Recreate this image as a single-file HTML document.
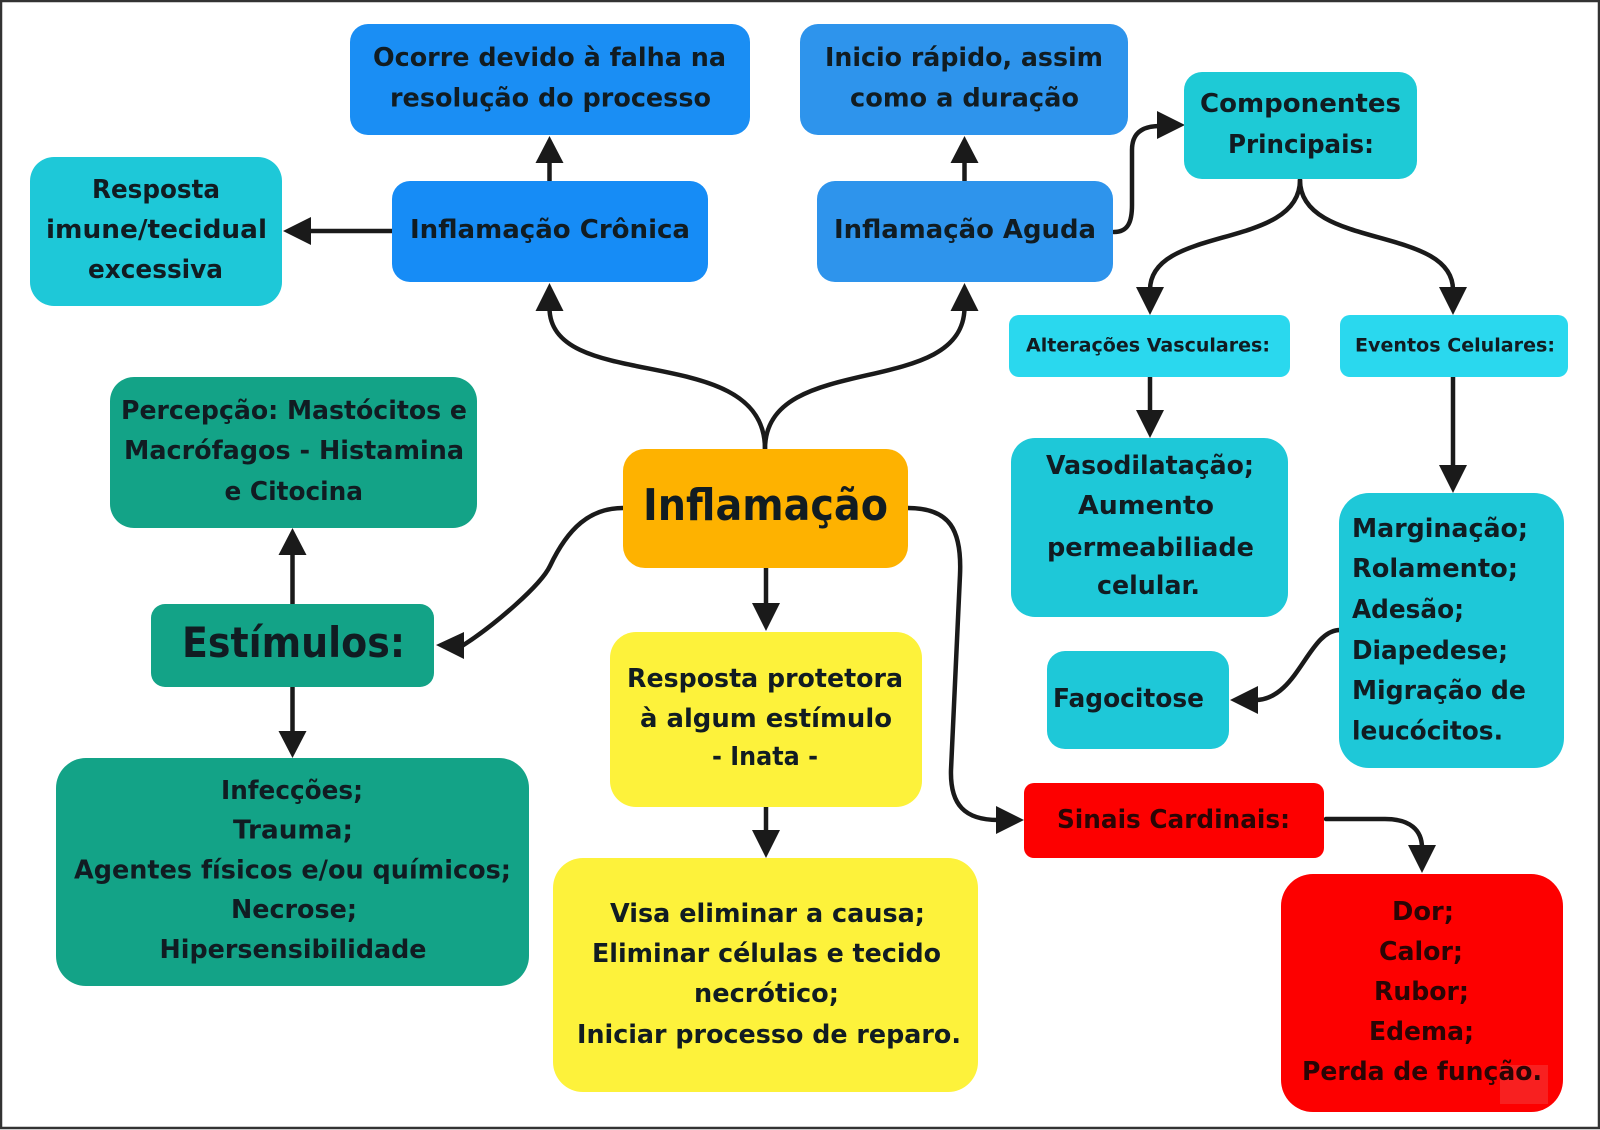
<!DOCTYPE html>
<html>
<head>
<meta charset="utf-8">
<style>
  html,body{margin:0;padding:0;background:#fff;}
  svg{display:block;}
  text{font-family:"DejaVu Sans","Liberation Sans",sans-serif;font-weight:bold;fill:#111c22;}
  .r text, text.r{fill:#2a0505;}
</style>
</head>
<body>
<svg width="1600" height="1130" viewBox="0 0 1600 1130" xmlns="http://www.w3.org/2000/svg">
  <rect x="0" y="0" width="1600" height="1130" fill="#ffffff"/>
  <rect x="1" y="1" width="1598" height="1127" fill="none" stroke="#333333" stroke-width="2.5"/>

  <!-- ===== Connectors ===== -->
  <g fill="none" stroke="#1a1a1a" stroke-width="4.5" stroke-linecap="round" stroke-linejoin="round">
    <line x1="549.5" y1="181" x2="549.5" y2="160"/>
    <line x1="392" y1="231" x2="308" y2="231"/>
    <path d="M765,449 C765,340 550,395 549.5,308"/>
    <path d="M765,449 C765,350 963,400 964.5,308"/>
    <line x1="964.5" y1="181" x2="964.5" y2="160"/>
    <path d="M1114,232 C1128,232 1132,222 1132,205 L1132,150 C1132,135 1140,126 1160,126"/>
    <path d="M1300,180 C1300,250 1150,225 1150,290"/>
    <path d="M1300,180 C1300,250 1453,225 1453,290"/>
    <line x1="1150" y1="377" x2="1150" y2="414"/>
    <line x1="1453" y1="377" x2="1453" y2="468"/>
    <path d="M1340,630 C1308,630 1298,700 1255,700"/>
    <!-- Inflamação -> Sinais (smoothed) -->
    <path d="M908,508 C950,508 962,530 960,575 L951,770 C950,805 965,820 998,820"/>
    <path d="M1326,819 L1385,819 C1410,819 1422,830 1422,848"/>
    <line x1="766" y1="568" x2="766" y2="606"/>
    <line x1="766" y1="807" x2="766" y2="834"/>
    <!-- Inflamação -> Estímulos (smoothed) -->
    <path d="M623,508 C590,508 568,528 550,566 C541,585 495,625 462,646"/>
    <line x1="292.5" y1="604" x2="292.5" y2="552"/>
    <line x1="292.5" y1="687" x2="292.5" y2="734"/>
  </g>

  <!-- ===== Arrowheads ===== -->
  <g fill="#1a1a1a">
    <polygon points="549.5,136 535.5,163 563.5,163"/>
    <polygon points="283,231 311,217 311,245"/>
    <polygon points="549.5,283 535.5,311 563.5,311"/>
    <polygon points="964.5,283 950.5,311 978.5,311"/>
    <polygon points="964.5,136 950.5,163 978.5,163"/>
    <polygon points="1185,125 1157,111 1157,139"/>
    <polygon points="1150,315 1136,287 1164,287"/>
    <polygon points="1453,315 1439,287 1467,287"/>
    <polygon points="1150,438 1136,410 1164,410"/>
    <polygon points="1453,493 1439,465 1467,465"/>
    <polygon points="1230,700 1258,686 1258,714"/>
    <polygon points="1024,820 996,806 996,834"/>
    <polygon points="1422,873 1408,845 1436,845"/>
    <polygon points="766,631 752,603 780,603"/>
    <polygon points="766,858 752,830 780,830"/>
    <polygon points="436,645 464,632 464,659"/>
    <polygon points="292.5,528 278.5,555 306.5,555"/>
    <polygon points="292.5,758 278.5,731 306.5,731"/>
  </g>

  <!-- ===== Nodes ===== -->
  <rect x="350" y="24" width="400" height="111" rx="18" fill="#1a8ef4"/>
  <text x="373" y="66" font-size="26" textLength="353" lengthAdjust="spacingAndGlyphs">Ocorre devido à falha na</text>
  <text x="390" y="106.5" font-size="26" textLength="321" lengthAdjust="spacingAndGlyphs">resolução do processo</text>

  <rect x="392" y="181" width="316" height="101" rx="18" fill="#168cf6"/>
  <text x="410" y="238" font-size="26" textLength="280" lengthAdjust="spacingAndGlyphs">Inflamação Crônica</text>

  <rect x="30" y="157" width="252" height="149" rx="24" fill="#1ec8d8"/>
  <text x="92" y="198" font-size="26" textLength="128" lengthAdjust="spacingAndGlyphs">Resposta</text>
  <text x="46" y="238" font-size="26" textLength="221" lengthAdjust="spacingAndGlyphs">imune/tecidual</text>
  <text x="88" y="278" font-size="26" textLength="135" lengthAdjust="spacingAndGlyphs">excessiva</text>

  <rect x="110" y="377" width="367" height="151" rx="24" fill="#13a387"/>
  <text x="121" y="419" font-size="26" textLength="346" lengthAdjust="spacingAndGlyphs">Percepção: Mastócitos e</text>
  <text x="124" y="459" font-size="26" textLength="340" lengthAdjust="spacingAndGlyphs">Macrófagos - Histamina</text>
  <text x="224.5" y="500" font-size="26" textLength="138.5" lengthAdjust="spacingAndGlyphs">e Citocina</text>

  <rect x="623" y="449" width="285" height="119" rx="22" fill="#feb200"/>
  <text x="643" y="520" font-size="44" textLength="245" lengthAdjust="spacingAndGlyphs">Inflamação</text>

  <rect x="151" y="604" width="283" height="83" rx="14" fill="#13a387"/>
  <text x="182" y="657" font-size="42" textLength="223" lengthAdjust="spacingAndGlyphs">Estímulos:</text>

  <rect x="56" y="758" width="473" height="228" rx="30" fill="#13a387"/>
  <text x="221" y="799" font-size="26" textLength="142" lengthAdjust="spacingAndGlyphs">Infecções;</text>
  <text x="233" y="838.5" font-size="26" textLength="120" lengthAdjust="spacingAndGlyphs">Trauma;</text>
  <text x="74" y="878.5" font-size="26" textLength="437" lengthAdjust="spacingAndGlyphs">Agentes físicos e/ou químicos;</text>
  <text x="231" y="918" font-size="26" textLength="126" lengthAdjust="spacingAndGlyphs">Necrose;</text>
  <text x="159.5" y="958" font-size="26" textLength="267" lengthAdjust="spacingAndGlyphs">Hipersensibilidade</text>

  <rect x="610" y="632" width="312" height="175" rx="26" fill="#fdf23b"/>
  <text x="627" y="687" font-size="26" textLength="276" lengthAdjust="spacingAndGlyphs">Resposta protetora</text>
  <text x="640" y="727" font-size="26" textLength="252" lengthAdjust="spacingAndGlyphs">à algum estímulo</text>
  <text x="712" y="765" font-size="26" textLength="106" lengthAdjust="spacingAndGlyphs">- Inata -</text>

  <rect x="553" y="858" width="425" height="234" rx="30" fill="#fdf23b"/>
  <text x="610" y="922" font-size="26" textLength="315" lengthAdjust="spacingAndGlyphs">Visa eliminar a causa;</text>
  <text x="592" y="962" font-size="26" textLength="349" lengthAdjust="spacingAndGlyphs">Eliminar células e tecido</text>
  <text x="694" y="1002" font-size="26" textLength="145" lengthAdjust="spacingAndGlyphs">necrótico;</text>
  <text x="577" y="1043" font-size="26" textLength="384" lengthAdjust="spacingAndGlyphs">Iniciar processo de reparo.</text>

  <rect x="800" y="24" width="328" height="111" rx="18" fill="#2e94ec"/>
  <text x="825" y="66" font-size="26" textLength="278" lengthAdjust="spacingAndGlyphs">Inicio rápido, assim</text>
  <text x="850" y="106.5" font-size="26" textLength="229" lengthAdjust="spacingAndGlyphs">como a duração</text>

  <rect x="817" y="181" width="296" height="101" rx="18" fill="#2e94ec"/>
  <text x="834" y="238" font-size="26" textLength="262" lengthAdjust="spacingAndGlyphs">Inflamação Aguda</text>

  <rect x="1184" y="72" width="233" height="107" rx="18" fill="#1ecad6"/>
  <text x="1200" y="112" font-size="26" textLength="201" lengthAdjust="spacingAndGlyphs">Componentes</text>
  <text x="1228" y="153" font-size="26" textLength="146" lengthAdjust="spacingAndGlyphs">Principais:</text>

  <rect x="1009" y="315" width="281" height="62" rx="10" fill="#2ad8ee"/>
  <text x="1026" y="351.5" font-size="19" textLength="244" lengthAdjust="spacingAndGlyphs">Alterações Vasculares:</text>

  <rect x="1340" y="315" width="228" height="62" rx="10" fill="#2ad8ee"/>
  <text x="1355" y="351.5" font-size="19" textLength="200" lengthAdjust="spacingAndGlyphs">Eventos Celulares:</text>

  <rect x="1011" y="438" width="277" height="179" rx="24" fill="#1ec8d8"/>
  <text x="1046" y="474" font-size="26" textLength="208" lengthAdjust="spacingAndGlyphs">Vasodilatação;</text>
  <text x="1078" y="514" font-size="26" textLength="136" lengthAdjust="spacingAndGlyphs">Aumento</text>
  <text x="1047" y="556" font-size="26" textLength="207" lengthAdjust="spacingAndGlyphs">permeabiliade</text>
  <text x="1097" y="594" font-size="26" textLength="103" lengthAdjust="spacingAndGlyphs">celular.</text>

  <rect x="1339" y="493" width="225" height="275" rx="30" fill="#1ec8d8"/>
  <text x="1352" y="537" font-size="26" textLength="176" lengthAdjust="spacingAndGlyphs">Marginação;</text>
  <text x="1352" y="577" font-size="26" textLength="166" lengthAdjust="spacingAndGlyphs">Rolamento;</text>
  <text x="1352" y="618" font-size="26" textLength="112" lengthAdjust="spacingAndGlyphs">Adesão;</text>
  <text x="1352" y="659" font-size="26" textLength="156" lengthAdjust="spacingAndGlyphs">Diapedese;</text>
  <text x="1352" y="699" font-size="26" textLength="174" lengthAdjust="spacingAndGlyphs">Migração de</text>
  <text x="1352" y="739.5" font-size="26" textLength="151" lengthAdjust="spacingAndGlyphs">leucócitos.</text>

  <rect x="1047" y="651" width="182" height="98" rx="18" fill="#1ec8d8"/>
  <text x="1053" y="707" font-size="26" textLength="151" lengthAdjust="spacingAndGlyphs">Fagocitose</text>

  <rect x="1024" y="783" width="300" height="75" rx="10" fill="#fd0000"/>
  <text class="r" x="1057" y="828" font-size="26" textLength="233" lengthAdjust="spacingAndGlyphs">Sinais Cardinais:</text>

  <rect x="1281" y="874" width="282" height="238" rx="32" fill="#fd0000"/>
  <rect x="1500" y="1065" width="48" height="39" fill="#f53535" opacity="0.6"/>
  <g class="r">
    <text x="1392" y="920" font-size="26" textLength="62" lengthAdjust="spacingAndGlyphs">Dor;</text>
    <text x="1379" y="960" font-size="26" textLength="84" lengthAdjust="spacingAndGlyphs">Calor;</text>
    <text x="1374" y="1000" font-size="26" textLength="95" lengthAdjust="spacingAndGlyphs">Rubor;</text>
    <text x="1369" y="1040" font-size="26" textLength="105" lengthAdjust="spacingAndGlyphs">Edema;</text>
    <text x="1302" y="1080" font-size="26" textLength="240" lengthAdjust="spacingAndGlyphs">Perda de função.</text>
  </g>
</svg>
</body>
</html>
